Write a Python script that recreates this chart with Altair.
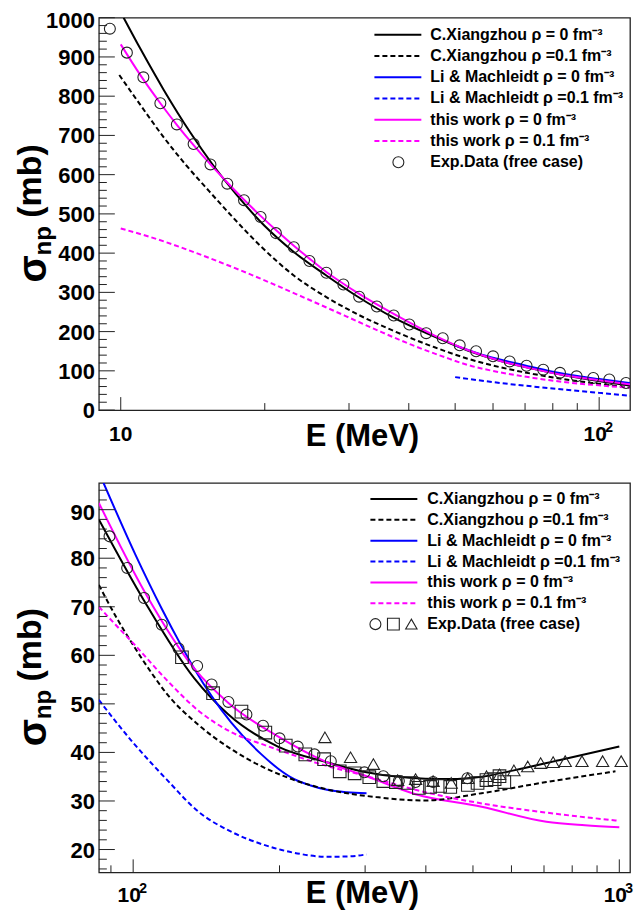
import altair as alt
import pandas as pd

FONT = "Liberation Sans"
BLACK, BLUE, MAGENTA = "#000000", "#0000ff", "#ff00ff"

# ------------------------------------------------------------------ top panel
top_xdomain = [9.0, 116.0]
top_ydomain = [0, 1000]

top_cx0_E = [10.14, 11.0, 12.3, 14.0, 15.6, 17.4, 20.0, 23.0, 26.9, 31.0, 37.0, 43.9, 53.1, 62.2, 72.8, 85.2, 99.8, 116.7]
top_cx0_s = [1000, 920, 816, 706, 624, 551, 469, 403, 343, 292, 237, 194, 152, 125, 105, 88, 74, 62]
top_cx1_E = [9.93, 11.0, 12.3, 13.7, 15.3, 17.1, 19.6, 23.0, 26.9, 31.5, 37.0, 45.3, 53.1, 62.2, 72.8, 85.2, 99.8, 116.7]
top_cx1_s = [854, 777, 695, 624, 558, 493, 418, 343, 288, 242, 203, 160, 131, 109, 92, 78, 67, 57]
top_li0_E = [50, 58.4, 70, 80, 90, 100, 116.7]
top_li0_s = [165, 137, 114, 98, 87, 79, 68]
top_li1_E = [50, 62.2, 72.8, 85.2, 99.8, 116.7]
top_li1_s = [84, 69, 60, 52, 44, 36]
top_tw0_E = [10.0, 11.0, 12.1, 13.1, 14.2, 15.4, 16.7, 18.1, 19.6, 21.1, 23.0, 24.8, 26.9, 29.2, 31.5, 37.2,
             45.3, 53.1, 62.2, 72.8, 85.2, 99.8, 116.7]
top_tw0_s = [932, 853, 782, 727, 675, 626, 580, 536, 495, 459, 419, 386, 352, 322, 296, 245,
             190, 153, 125, 105, 88, 76, 65]
top_tw1_E = [10.0, 12.3, 13.4, 16.75, 18.4, 21.2, 25.3, 29.6, 34.6, 40.6, 47.5, 53.1, 62.2, 72.8, 85.2, 99.8, 116.7]
top_tw1_s = [463, 430, 414, 369, 349, 317, 276, 239, 202, 166, 135, 115, 96, 82, 71, 63, 57]

top_exp_E = [9.49, 10.3, 11.15, 12.1, 13.1, 14.2, 15.4, 16.7, 18.1, 19.6, 21.1, 23.0, 24.8, 26.9, 29.2, 31.5,
             34.3, 37.2, 40.1, 43.5, 47.1, 51.1, 55.3, 60.0, 65.0, 70.5, 76.4, 82.8, 89.7, 97.2, 105.0, 113.8]
top_exp_s = [972, 911, 848, 782, 728, 678, 626, 577, 535, 492, 451, 415, 380, 350, 320, 289,
             264, 241, 218, 196, 183, 165, 150, 137, 124, 113, 103, 95, 86, 82, 78, 69]

top_ytick_major = list(range(0, 1001, 100))
top_ytick_minor = [v for v in range(0, 1001, 20) if v % 100]
top_ytick_labels = [str(v) for v in top_ytick_major]
top_xtick_major = [10, 100]
top_xtick_minor = [20, 30, 40, 50, 60, 70, 80, 90]
top_xlabel_base = ["10", "10"]
top_xlabel_sup = ["", "2"]

# --------------------------------------------------------------- bottom panel
bot_xdomain = [85.0, 1052.0]
bot_ydomain = [15.3, 95.5]

bot_cx0_E = [85, 105.7, 133.5, 157, 198.5, 250, 302, 399, 450, 521, 607, 767, 1000]
bot_cx0_s = [88, 71, 55.3, 47.8, 41.2, 38, 35.9, 34.6, 34.5, 35.0, 36.3, 38.6, 41.2]
bot_cx1_E = [85, 92, 100, 110.8, 117.2, 135, 159, 208, 250, 316, 399, 521, 708, 982]
bot_cx1_s = [74.5, 68.1, 62.1, 55.4, 52.1, 46.0, 40.7, 34.8, 32.4, 30.8, 30.1, 31.6, 33.9, 36.1]
bot_li0_E = [86.9, 101, 114.5, 125.6, 133.5, 145, 159, 183.6, 198.5, 214.5, 231.8, 250.5, 275, 302]
bot_li0_s = [95.5, 80.8, 69.6, 62.0, 57.3, 51.6, 46.2, 39.6, 36.7, 34.5, 33.2, 32.3, 31.8, 31.6]
bot_li1_E = [85, 100, 117, 136.6, 159.6, 186.6, 217.6, 250, 280, 302]
bot_li1_s = [50.8, 42, 34.5, 27.7, 23.6, 20.9, 19.2, 18.5, 18.6, 19.0]
bot_tw0_E = [85, 105.7, 133.5, 157, 198.5, 250, 302, 381, 521, 708, 850, 1000]
bot_tw0_s = [91.4, 73, 57.3, 50.2, 43.3, 38, 35.1, 31.4, 28.8, 25.7, 25.0, 24.6]
bot_tw1_E = [85, 92, 100, 117, 136.6, 159, 186.6, 198, 239, 302, 399, 521, 708, 1000]
bot_tw1_s = [70, 66.3, 62.5, 55, 48.5, 44.2, 41.5, 40.6, 37.8, 35.1, 31.8, 29.5, 27.6, 25.9]

bot_circ_E = [89.4, 97.2, 105.3, 114.5, 124, 135.4, 145, 157, 171, 185, 200, 218, 236, 255, 299, 327, 352, 381, 414, 487]
bot_circ_s = [84.5, 78, 71.8, 66.3, 61.4, 57.8, 54, 50.4, 47.8, 45.5, 42.9, 41.2, 39.6, 38.2, 35.9, 35.1, 34.1, 33.9, 33.9, 34.7]
bot_sq_E = [126, 146, 167, 187, 206, 226, 247, 266, 285.5, 306, 327, 347, 367, 387, 408, 428, 449, 488, 511, 533, 554, 567, 580]
bot_sq_s = [59.6, 52.2, 48.4, 44.1, 41.4, 39.6, 38.6, 36.1, 35.7, 34.9, 34.1, 33.9, 33.7, 32.7, 32.9, 33.1, 32.9, 33.3, 33.7, 34.3, 34.5, 35.1, 33.9]
bot_tri_E = [248, 280, 312, 350, 381, 414, 451, 488, 533, 567, 607, 648, 689, 731, 774, 838, 924, 1009]
bot_tri_s = [43.1, 39, 37.6, 34.3, 34.5, 34.1, 33.7, 34.7, 35.1, 35.5, 36.3, 37.1, 37.8, 38.0, 38.2, 38.2, 38.2, 38.2]

bot_ytick_major = list(range(20, 91, 10))
bot_ytick_minor = [v for v in range(16, 96, 2) if v % 10]
bot_ytick_labels = [str(v) for v in bot_ytick_major]
bot_xtick_major = [100, 1000]
bot_xtick_minor = [90, 200, 300, 400, 500, 600, 700, 800, 900]
bot_xlabel_base = ["10", "10"]
bot_xlabel_sup = ["2", "3"]

legend_labels = [
    "C.Xiangzhou ρ = 0 fm⁻³",
    "C.Xiangzhou ρ =0.1 fm⁻³",
    "Li & Machleidt ρ = 0 fm⁻³",
    "Li & Machleidt ρ =0.1 fm⁻³",
    "this work ρ = 0 fm⁻³",
    "this work ρ = 0.1 fm⁻³",
    "Exp.Data (free case)",
]
legend_colors = [BLACK, BLACK, BLUE, BLUE, MAGENTA, MAGENTA]
legend_dashed = [False, True, False, True, False, True]
DASH = [5, 3]


def text_kw(size, **kw):
    return dict(font=FONT, fontWeight="bold", fontSize=size, color="black", **kw)


def panel(W, H, xdom, ydom, curves, exps, yt_major, yt_minor, yt_labels, xt_major, xt_minor,
          xl_base, xl_sup, leg, ylab_size, xtitle_off, xlab_off):
    xs = alt.Scale(type="log", domain=xdom, nice=False)
    ys = alt.Scale(domain=ydom, nice=False, zero=False)
    layers = []

    for dashed in (False, True):
        rows = []
        for name, col, E, S, d in curves:
            if d == dashed:
                rows += [{"E": e, "s": s, "series": name, "color": col} for e, s in zip(E, S)]
        kw = dict(strokeWidth=2, clip=True, interpolate="monotone")
        if dashed:
            kw["strokeDash"] = DASH
        layers.append(
            alt.Chart(pd.DataFrame(rows)).mark_line(**kw).encode(
                x=alt.X("E:Q", scale=xs, axis=None),
                y=alt.Y("s:Q", scale=ys, axis=None),
                color=alt.Color("color:N", scale=None),
                detail="series:N",
                order="E:Q",
            )
        )

    for shape, size, E, S in exps:
        layers.append(
            alt.Chart(pd.DataFrame({"E": E, "s": S})).mark_point(
                shape=shape, filled=False, size=size, color="#222", strokeWidth=1.1, clip=True, opacity=1
            ).encode(x=alt.X("E:Q", scale=xs, axis=None), y=alt.Y("s:Q", scale=ys, axis=None))
        )

    # ticks drawn inside the frame (ROOT style)
    for vals, ln in ((yt_major, 16), (yt_minor, 8)):
        layers.append(
            alt.Chart(pd.DataFrame({"v": vals})).mark_rule(color="#222", strokeWidth=1).encode(
                y=alt.Y("v:Q", scale=ys, axis=None), x=alt.value(0), x2=alt.value(ln)
            )
        )
    for vals, ln in ((xt_major, 13), (xt_minor, 7)):
        layers.append(
            alt.Chart(pd.DataFrame({"v": vals})).mark_rule(color="#222", strokeWidth=1).encode(
                x=alt.X("v:Q", scale=xs, axis=None), y=alt.value(H), y2=alt.value(H - ln)
            )
        )
    # y tick labels (top-most label nudged down as ROOT does)
    yl = pd.DataFrame({"v": yt_major, "t": yt_labels})
    layers.append(
        alt.Chart(yl.iloc[:-1]).mark_text(
            **text_kw(ylab_size, align="right", baseline="middle", dx=-4, dy=1)
        ).encode(y=alt.Y("v:Q", scale=ys, axis=None), x=alt.value(0), text="t:N")
    )
    layers.append(
        alt.Chart(yl.iloc[-1:]).mark_text(
            **text_kw(ylab_size, align="right", baseline="middle", dx=-4, dy=3)
        ).encode(y=alt.Y("v:Q", scale=ys, axis=None), x=alt.value(0), text="t:N")
    )
    # x tick labels with superscripts
    xl = pd.DataFrame({"v": xt_major, "b": xl_base, "p": xl_sup})
    for i in range(len(xl)):
        r = xl.iloc[[i]]
        has_sup = bool(r["p"].iloc[0])
        layers.append(
            alt.Chart(r).mark_text(
                **text_kw(21, align="center", baseline="alphabetic", dx=-4 if has_sup else 0)
            ).encode(x=alt.X("v:Q", scale=xs, axis=None), y=alt.value(H + xlab_off), text="b:N")
        )
        if has_sup:
            layers.append(
                alt.Chart(r).mark_text(**text_kw(14, align="left", baseline="alphabetic", dx=6)).encode(
                    x=alt.X("v:Q", scale=xs, axis=None), y=alt.value(H + xlab_off - 9), text="p:N"
                )
            )
    # axis titles
    layers.append(
        alt.Chart(pd.DataFrame({"t": ["E (MeV)"]})).mark_text(
            **text_kw(31, align="center", baseline="alphabetic")
        ).encode(x=alt.value(W / 2 - 2), y=alt.value(H + xtitle_off), text="t:N")
    )
    cy = H / 2
    for t, size, yy, xx in (("σ", 40, cy + 55, -53), ("np", 24, cy + 27, -48), ("(mb)", 34, cy - 33, -58)):
        layers.append(
            alt.Chart(pd.DataFrame({"t": [t]})).mark_text(
                **text_kw(size, align="center", baseline="alphabetic", angle=270)
            ).encode(x=alt.value(xx), y=alt.value(yy), text="t:N")
        )
    # legend
    x0, x1, xt, y0, dy, syms = leg
    for i, lab in enumerate(legend_labels):
        y = y0 + i * dy
        if i < 6:
            kw = dict(color=legend_colors[i], strokeWidth=2)
            if legend_dashed[i]:
                kw["strokeDash"] = DASH
            layers.append(
                alt.Chart(pd.DataFrame({"k": [0]})).mark_rule(**kw).encode(
                    x=alt.value(x0), x2=alt.value(x1), y=alt.value(y)
                )
            )
        else:
            for shape, size, sx in syms:
                layers.append(
                    alt.Chart(pd.DataFrame({"k": [0]})).mark_point(
                        shape=shape, filled=False, size=size, color="#222", strokeWidth=1.1, opacity=1
                    ).encode(x=alt.value(sx), y=alt.value(y))
                )
        layers.append(
            alt.Chart(pd.DataFrame({"t": [lab]})).mark_text(
                **text_kw(16, align="left", baseline="middle")
            ).encode(x=alt.value(xt), y=alt.value(y), text="t:N")
        )
    return alt.layer(*layers).properties(width=W, height=H)


W = 532

top = panel(
    W, 393, top_xdomain, top_ydomain,
    [("cx0", BLACK, top_cx0_E, top_cx0_s, False), ("cx1", BLACK, top_cx1_E, top_cx1_s, True),
     ("li0", BLUE, top_li0_E, top_li0_s, False), ("li1", BLUE, top_li1_E, top_li1_s, True),
     ("tw0", MAGENTA, top_tw0_E, top_tw0_s, False), ("tw1", MAGENTA, top_tw1_E, top_tw1_s, True)],
    [("circle", 120, top_exp_E, top_exp_s)],
    top_ytick_major, top_ytick_minor, top_ytick_labels, top_xtick_major, top_xtick_minor,
    top_xlabel_base, top_xlabel_sup,
    (W - 256, W - 209, W - 200, 17, 21.3, [("circle", 120, W - 232)]), 22, 36, 31,
)

bottom = panel(
    W, 390, bot_xdomain, bot_ydomain,
    [("cx0", BLACK, bot_cx0_E, bot_cx0_s, False), ("cx1", BLACK, bot_cx1_E, bot_cx1_s, True),
     ("li0", BLUE, bot_li0_E, bot_li0_s, False), ("li1", BLUE, bot_li1_E, bot_li1_s, True),
     ("tw0", MAGENTA, bot_tw0_E, bot_tw0_s, False), ("tw1", MAGENTA, bot_tw1_E, bot_tw1_s, True)],
    [("circle", 120, bot_circ_E, bot_circ_s), ("square", 160, bot_sq_E, bot_sq_s),
     ("triangle-up", 150, bot_tri_E, bot_tri_s)],
    bot_ytick_major, bot_ytick_minor, bot_ytick_labels, bot_xtick_major, bot_xtick_minor,
    bot_xlabel_base, bot_xlabel_sup,
    (W - 260, W - 213, W - 203, 16, 20.9,
     [("circle", 120, W - 255), ("square", 140, W - 237), ("triangle-up", 130, W - 219)]), 22, 31, 30,
)

chart = alt.vconcat(top, bottom, spacing=29).properties(
    padding={"left": 5, "top": 0, "right": 0, "bottom": 0}
).configure_view(stroke="#222", strokeWidth=1.3)

chart.save("out.html", embed_options={"renderer": "svg", "actions": False})
